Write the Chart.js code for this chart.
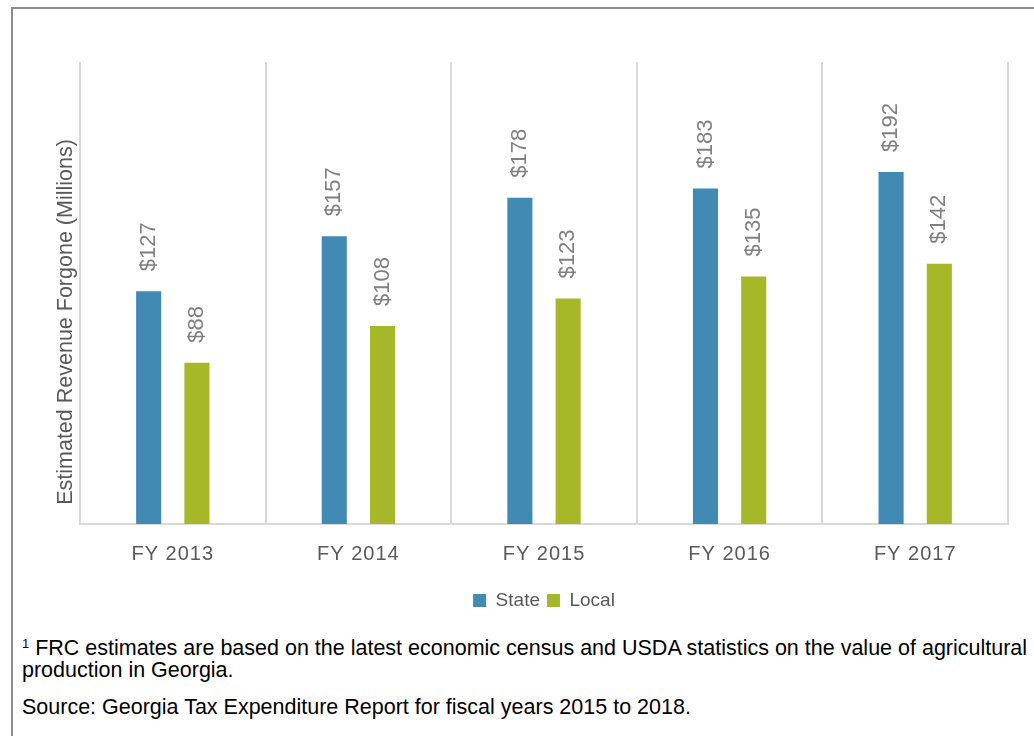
<!DOCTYPE html>
<html>
<head>
<meta charset="utf-8">
<script src="https://cdn.jsdelivr.net/npm/chart.js@4.4.1/dist/chart.umd.min.js"></script>
<style>
  html, body { margin: 0; padding: 0; background: #fff; }
  body { width: 1034px; height: 736px; position: relative; overflow: hidden; font-family: Arial, "Liberation Sans", sans-serif; }
  .frame { position: absolute; left: 11px; top: 7px; width: 1100px; height: 800px; border: 2px solid #8c8c8c; box-sizing: border-box; }
  .chart-box { position: absolute; left: 0; top: 0; width: 1034px; height: 624px; }
  .notes { position: absolute; left: 22px; top: 637px; width: 1008px; font-size: 21.5px; line-height: 22px; color: #000; }
  .notes p { margin: 0 0 15px 0; }
  .notes sup { font-size: 13px; vertical-align: 7px; line-height: 0; }
</style>
</head>
<body>
<div class="frame"></div>
<div class="chart-box"><canvas id="chart"></canvas></div>
<div class="notes">
  <p><sup>1</sup> FRC estimates are based on the latest economic census and USDA statistics on the value of agricultural production in Georgia.</p>
  <p>Source: Georgia Tax Expenditure Report for fiscal years 2015 to 2018.</p>
</div>
<script>
var CATEGORIES = ['FY 2013', 'FY 2014', 'FY 2015', 'FY 2016', 'FY 2017'];
var STATE_VALUES = [127, 157, 178, 183, 192];
var LOCAL_VALUES = [88, 108, 123, 135, 142];
var STATE_COLOR = '#418ab3';
var LOCAL_COLOR = '#a6b727';
var GRID_COLOR = '#d9d9d9';

// rotated "$xxx" labels above each bar and the y axis title
var barLabels = {
  id: 'barLabels',
  beforeDraw: function (chart) {
    // letter-spaced category labels on the x axis only
    var s = chart.scales.x;
    if (s && !s._spaced) {
      var orig = s.drawLabels;
      s.drawLabels = function (area) {
        this.ctx.save();
        this.ctx.letterSpacing = '1px';
        orig.call(this, area);
        this.ctx.restore();
      };
      s._spaced = true;
    }
  },
  afterDatasetsDraw: function (chart) {
    var ctx = chart.ctx;
    ctx.save();
    ctx.font = '22px Arial, "Liberation Sans", sans-serif';
    ctx.fillStyle = '#808080';
    ctx.textAlign = 'left';
    ctx.textBaseline = 'middle';
    chart.data.datasets.forEach(function (ds, i) {
      chart.getDatasetMeta(i).data.forEach(function (bar, j) {
        ctx.save();
        ctx.translate(bar.x, bar.y - 20);
        ctx.rotate(-Math.PI / 2);
        ctx.fillText('$' + ds.data[j], 0, 0);
        ctx.restore();
      });
    });
    ctx.font = '21.5px Arial, "Liberation Sans", sans-serif';
    ctx.fillStyle = '#595959';
    ctx.textAlign = 'center';
    ctx.translate(66, 322);
    ctx.rotate(-Math.PI / 2);
    ctx.fillText('Estimated Revenue Forgone (Millions)', 0, 0);
    ctx.restore();
  }
};

new Chart(document.getElementById('chart'), {
  type: 'bar',
  data: {
    labels: CATEGORIES,
    datasets: [
      { label: 'State', data: STATE_VALUES, backgroundColor: STATE_COLOR },
      { label: 'Local', data: LOCAL_VALUES, backgroundColor: LOCAL_COLOR }
    ]
  },
  options: {
    responsive: true,
    maintainAspectRatio: false,
    animation: false,
    categoryPercentage: 0.52,
    barPercentage: 0.52,
    layout: { padding: { left: 80, right: 26, top: 62, bottom: 4 } },
    plugins: {
      legend: {
        position: 'bottom',
        labels: {
          color: '#595959',
          boxWidth: 13,
          boxHeight: 13,
          padding: 7,
          font: { family: '"Liberation Sans Narrow", "Liberation Sans", Arial', size: 19 }
        }
      },
      tooltip: { enabled: false }
    },
    scales: {
      x: {
        grid: { color: GRID_COLOR, lineWidth: 2, drawTicks: false, offset: true },
        border: { color: GRID_COLOR, width: 2 },
        ticks: { color: '#595959', padding: 18, font: { family: 'Arial, "Liberation Sans"', size: 20 } }
      },
      y: {
        display: false,
        min: 0,
        max: 252
      }
    }
  },
  plugins: [barLabels]
});
</script>
</body>
</html>
